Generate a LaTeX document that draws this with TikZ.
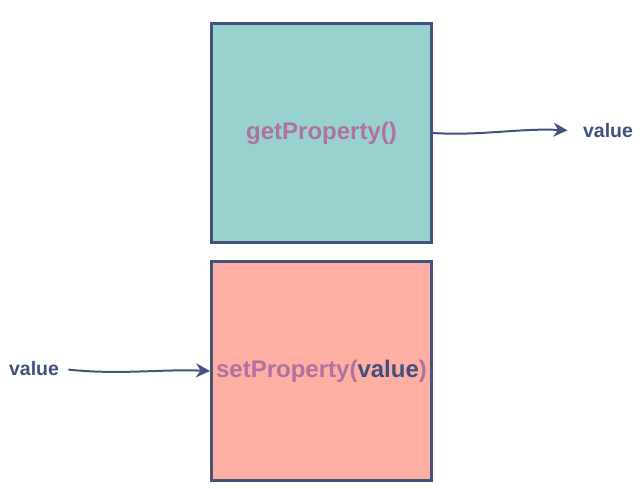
\documentclass[tikz,border=0pt]{standalone}
\usepackage{fontspec}
\setmainfont{Liberation Sans}
\usetikzlibrary{arrows.meta,positioning}
\definecolor{boxline}{HTML}{44537D}
\definecolor{getfill}{HTML}{98D1CD}
\definecolor{setfill}{HTML}{FFAEA3}
\definecolor{methtext}{HTML}{B0739E}
\definecolor{valtext}{HTML}{41507F}

\begin{document}
\begin{tikzpicture}[
x=1pt,y=-1pt,
font=\bfseries\fontsize{24}{28}\selectfont,
propbox/.style={draw=boxline,line width=3pt,minimum width=220pt,minimum height=219pt,inner sep=0pt,text=methtext},
flow/.style={-{Stealth[length=14pt,width=14pt]},draw=boxline,line width=2pt},
valnode/.style={text=valtext,font=\bfseries\fontsize{19.5}{22}\selectfont}]
    \useasboundingbox (0,0) rectangle (640,489);

    % Draw boxes
    \node[propbox,fill=getfill] (getbox) at (321.5,133) {getProperty()};
    \node[propbox,fill=setfill] (setbox) at (321.5,371) {setProperty(\textcolor{valtext}{value})};

    % Values
    \node[valnode] (outval) at (608,131) {value};
    \node[valnode] (inval) at (34,369) {value};

  	\draw[flow,shorten >=12pt] (getbox.east) .. controls (480,136) and (520,128) .. (outval.west);
  	\draw[flow,shorten <=6pt] (inval.east) .. controls (120,375) and (160,369) .. (setbox.west);

\end{tikzpicture}
\end{document}
